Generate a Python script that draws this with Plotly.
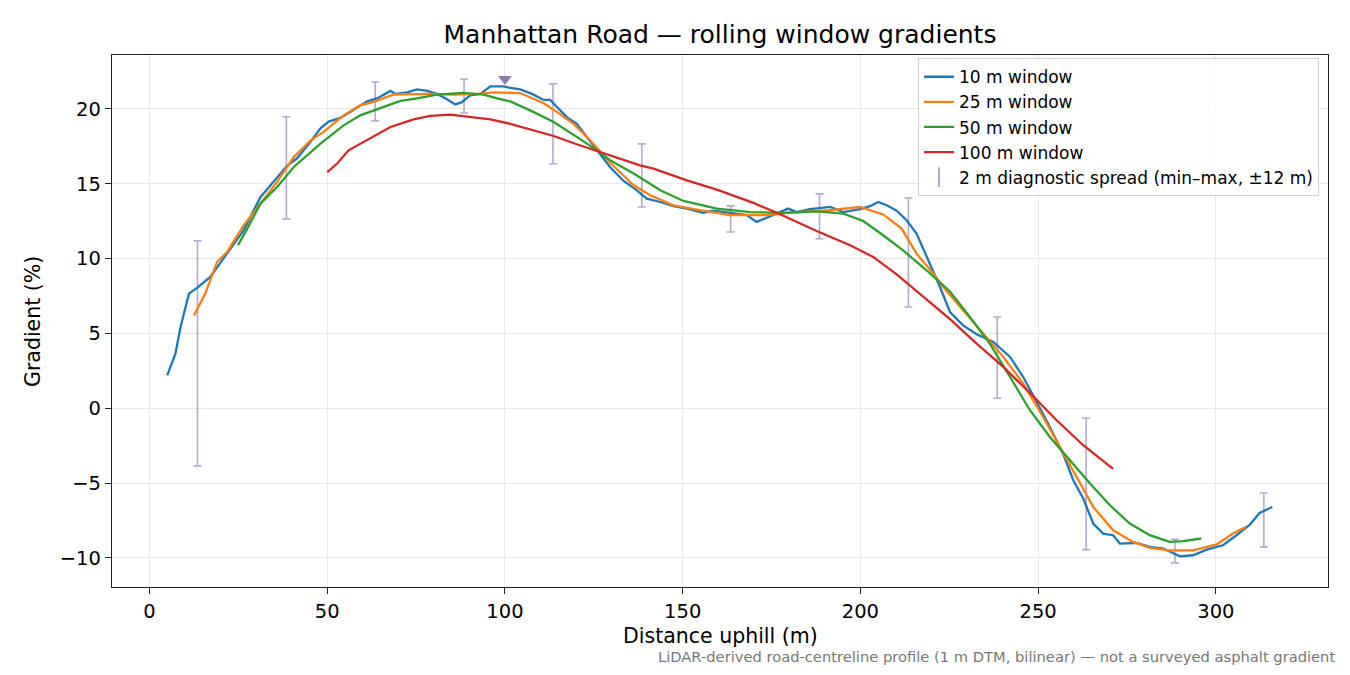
import plotly.graph_objects as go

# rolling-window gradient profiles (distance in m, gradient in %)
dist_10 = [5, 7.3, 8.7, 11.1, 13.4, 17.1, 21.8, 26.5, 31.2, 35.9, 38.7, 41.5, 45.3, 48.1,
           50.4, 53.7, 56.5, 61.2, 64, 67.8, 69.2, 72.4, 75.3, 78.1, 80.9, 83.7, 86, 87.9,
           90.2, 93.1, 95.9, 99.6, 101.5, 104.3, 107.6, 110.9, 112.7, 115.5, 117.4, 120.2,
           124, 126.8, 129.6, 133.3, 137.1, 139.9, 143.7, 147.4, 151.2, 155.8, 158.6, 163.3,
           168, 170.8, 173.6, 176.5, 179.7, 182.1, 185.8, 191.5, 195.2, 199.9, 202.7, 205,
           207.4, 210.2, 213, 215.8, 219.6, 222.4, 225.2, 228.9, 232.7, 237.4, 242.1, 245.8,
           249.6, 253.3, 257, 259.9, 262.7, 265.5, 268.3, 271.1, 273, 277.7, 281.4, 285.2,
           289.9, 293.6, 297.4, 302, 305.8, 309.5, 312.3, 315.9]
grad_10 = [2.2, 3.65, 5.4, 7.66, 8.04, 8.77, 10.33, 11.9, 14.1, 15.45, 16.2, 16.7, 17.8, 18.7,
           19.15, 19.4, 19.8, 20.5, 20.7, 21.2, 21.0, 21.1, 21.3, 21.2, 21.0, 20.65, 20.3, 20.45,
           20.9, 21.0, 21.5, 21.5, 21.4, 21.3, 21.0, 20.6, 20.6, 19.9, 19.45, 19.0,
           17.8, 17.0, 16.1, 15.2, 14.56, 14.0, 13.78, 13.5, 13.34, 13.05, 13.2, 13.05,
           12.9, 12.45, 12.74, 13.0, 13.34, 13.1, 13.3, 13.45, 13.1, 13.3, 13.5, 13.78,
           13.56, 13.2, 12.56, 11.67, 9.67, 8.1, 6.43, 5.54, 4.94, 4.43, 3.43, 2.09,
           0.42, -1.25, -3.03, -4.81, -6.03, -7.7, -8.37, -8.48, -9.04, -9.0, -9.26, -9.37,
           -9.89, -9.82, -9.44, -9.15, -8.48, -7.8, -6.99, -6.59]

dist_25 = [12.5, 15.7, 19.0, 21.8, 26.5, 31.2, 35.9, 40.6, 45.3, 49.0, 54.6, 59.3, 63.1, 68.7,
           78.1, 85.6, 92.1, 96.8, 104.3, 110.9, 114.6, 119.3, 124, 129.6, 136.2, 140.9,
           147.4, 154.9, 163.3, 173.6, 182.1, 191.5, 199.9, 206.4, 211.6, 215.8, 220.5, 223.3,
           228.9, 234.6, 240.2, 245.8, 251.4, 256.1, 260.8, 265.5, 271.1, 276.7, 281.4, 287,
           293.6, 300.2, 304.8, 308.4]
grad_25 = [6.2, 7.66, 9.77, 10.44, 12.22, 13.67, 15.12, 16.79, 17.9, 18.46, 19.57, 20.24, 20.47, 20.96,
           21.0, 20.96, 21.0, 21.1, 21.06, 20.38, 19.8, 19.0, 17.9, 16.4, 14.9, 14.23,
           13.56, 13.23, 12.9, 12.9, 13.1, 13.23, 13.45, 12.95, 12.0, 10.33, 9.0, 8.1,
           6.55, 4.99, 3.43, 1.65, -0.58, -2.58, -4.59, -6.59, -8.15, -8.93, -9.33, -9.49,
           -9.49, -9.1, -8.37, -7.93]

dist_50 = [24.9, 27.5, 31.2, 35.9, 40.6, 48.1, 54.6, 59.3, 65.9, 70.6, 75.3, 80.9, 88.4, 94.0,
           97.8, 101.5, 108, 113.7, 120.2, 125.9, 129.6, 136.2, 143.7, 150.2, 159.6, 169,
           178.3, 187.7, 195.2, 200.8, 206.4, 212, 218.6, 225.2, 230.8, 236.4, 242.1, 247.7,
           253.3, 258.9, 264.6, 270.2, 275.8, 281.4, 287, 290.8, 295.9]
grad_50 = [10.9, 12.0, 13.67, 14.78, 16.12, 17.68, 18.9, 19.57, 20.13, 20.53, 20.7, 20.96, 21.07, 20.96,
           20.7, 20.5, 19.8, 19.13, 18.13, 17.23, 16.57, 15.68, 14.56, 13.85, 13.34, 13.11,
           13.05, 13.16, 13.0, 12.51, 11.56, 10.55, 9.22, 7.8, 6.1, 4.32, 2.09, -0.13,
           -1.92, -3.47, -5.03, -6.48, -7.7, -8.48, -8.93, -8.88, -8.7]

dist_100 = [50, 52.8, 56, 61.2, 67.8, 74.3, 79, 84.6, 91.2, 95.9, 101.5, 107.1, 113.7, 120.2,
            126.8, 129.6, 138, 141.8, 151.2, 159.6, 169.9, 177.4, 187.7, 197.1, 203.6, 210.2,
            217.7, 225.2, 232.7, 240.2, 247.7, 255.2, 262.7, 271.1]
grad_100 = [15.78, 16.35, 17.23, 17.9, 18.79, 19.3, 19.53, 19.62, 19.46, 19.3, 19.0, 18.64, 18.19, 17.64,
            17.12, 16.85, 16.23, 16.01, 15.23, 14.61, 13.72, 12.96, 11.84, 10.89, 10.11, 8.95,
            7.44, 5.96, 4.32, 2.76, 1.02, -0.8, -2.47, -4.05]

# 2 m diagnostic spread (min-max within +-12 m)
spread_x = [13.5, 38.5, 63.5, 88.5, 113.5, 138.5, 163.5, 188.5, 213.5, 238.5, 263.5, 288.5, 313.5]
spread_min = [-3.85, 12.65, 19.2, 19.73, 16.33, 13.45, 11.78, 11.32, 6.77, 0.67, -9.44, -10.33, -9.26]
spread_max = [11.18, 19.47, 21.8, 22.0, 21.67, 17.66, 13.52, 14.32, 14.05, 6.1, -0.65, -8.75, -5.66]

steep_x = [100]
steep_y = [22.0]

FONT = "DejaVu Sans"
SPREAD = "rgba(129,114,179,0.6)"
series = [
    ("10 m window", dist_10, grad_10, "#1f77b4"),
    ("25 m window", dist_25, grad_25, "#ff7f0e"),
    ("50 m window", dist_50, grad_50, "#2ca02c"),
    ("100 m window", dist_100, grad_100, "#d62728"),
]

mid = [(a + b) / 2 for a, b in zip(spread_min, spread_max)]
up = [b - m for b, m in zip(spread_max, mid)]
down = [m - a for a, m in zip(spread_min, mid)]

fig = go.Figure()
fig.add_trace(go.Scatter(
    x=spread_x, y=mid, mode="markers", showlegend=False, hoverinfo="skip",
    marker=dict(size=1, color="rgba(0,0,0,0)"),
    error_y=dict(type="data", symmetric=False, array=up, arrayminus=down,
                 color=SPREAD, thickness=1.6, width=4)))
for name, xs, ys, col in series:
    fig.add_trace(go.Scatter(x=xs, y=ys, mode="lines", name=name,
                             line=dict(color=col, width=2.3)))
# legend-only entry for the spread bars
fig.add_trace(go.Scatter(x=[None], y=[None], mode="markers",
                         name="2 m diagnostic spread (min\u2013max, \u00b112 m)",
                         marker=dict(symbol="line-ns", size=14,
                                     line=dict(color=SPREAD, width=2))))
fig.add_trace(go.Scatter(x=steep_x, y=steep_y, mode="markers", showlegend=False,
                         marker=dict(symbol="triangle-down", size=12, color="#8a7cad")))

axis = dict(showline=True, mirror=True, linecolor="#222", linewidth=1.3,
            ticks="outside", ticklen=6, tickwidth=1.3, tickcolor="#222",
            showgrid=True, gridcolor="#e8e8e8", gridwidth=1, zeroline=False,
            tickfont=dict(family=FONT, size=19.5, color="black"))
yt = [-10, -5, 0, 5, 10, 15, 20]
fig.update_xaxes(range=[-10.55, 331.55], tickvals=[0, 50, 100, 150, 200, 250, 300], **axis)
fig.update_yaxes(range=[-11.94, 23.6], tickvals=yt,
                 ticktext=[str(v).replace("-", "\u2212") for v in yt], **axis)

# page body has an 8 px margin, so the figure is sized to fit inside 1350x675
W, H = 1334, 659
fig.update_layout(
    width=W, height=H, plot_bgcolor="white", paper_bgcolor="white",
    margin=dict(l=104, r=14, t=47, b=80),
    font=dict(family=FONT, color="black"),
    title=dict(text="Manhattan Road \u2014 rolling window gradients", x=0.5, xref="paper",
               y=1 - 26 / H, yanchor="middle", font=dict(size=25)),
    legend=dict(x=0.9926, y=0.994, xanchor="right", yanchor="top",
                bgcolor="rgba(255,255,255,0.85)", bordercolor="#d0d0d0", borderwidth=1,
                font=dict(size=17)),
    annotations=[
        dict(text="Distance uphill (m)", xref="paper", yref="paper", x=0.5, y=-0.0912,
             yanchor="middle", showarrow=False, borderpad=0, font=dict(size=20.5)),
        dict(text="Gradient (%)", xref="paper", yref="paper", x=-0.065, y=0.5,
             textangle=-90, xanchor="center", yanchor="middle", showarrow=False,
             font=dict(size=20.5)),
        dict(text="LiDAR-derived road-centreline profile (1 m DTM, bilinear) \u2014 not a surveyed asphalt gradient",
             xref="paper", yref="paper", x=1.0066, y=-0.1306, xanchor="right", yanchor="middle",
             showarrow=False, borderpad=0, font=dict(size=14.7, color="#777")),
    ],
)

fig.write_html("out.html")
